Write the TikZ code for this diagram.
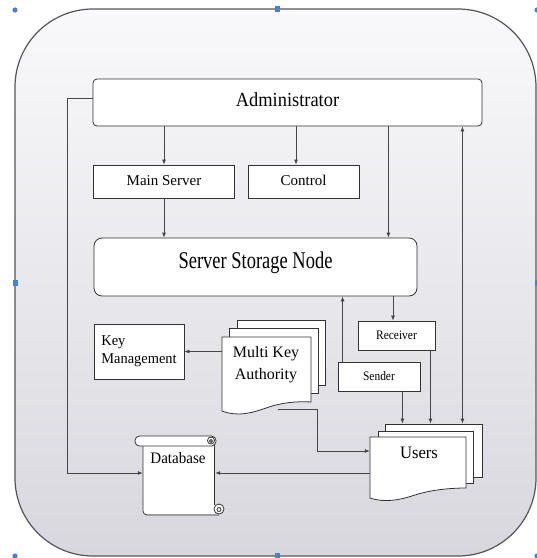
\documentclass[tikz,border=0pt]{standalone}
\usepackage{fontspec}
\setmainfont{Liberation Serif}
\newfontfamily\fAdm[FakeStretch=0.92]{Liberation Serif}
\newfontfamily\fSsn[FakeStretch=0.77]{Liberation Serif}
\newfontfamily\fKm[FakeStretch=0.96]{Liberation Serif}
\newfontfamily\fRs[FakeStretch=0.88]{Liberation Serif}
\newfontfamily\fUs[FakeStretch=0.95]{Liberation Serif}
\newfontfamily\fDb[FakeStretch=0.94]{Liberation Serif}
\usetikzlibrary{arrows.meta,calc}
\definecolor{frameline}{RGB}{85,85,85}
\definecolor{boxline}{RGB}{50,50,50}
\definecolor{conn}{RGB}{70,70,70}
\definecolor{bgtop}{RGB}{249,249,251}
\definecolor{bgbot}{RGB}{216,215,222}
\definecolor{handle}{RGB}{74,128,210}
\begin{document}
\begin{tikzpicture}[x=1pt,y=-1pt,
  box/.style={draw=boxline, fill=white, line width=0.8pt, inner sep=0pt, rectangle},
  page/.style={draw=boxline, fill=white, line width=0.8pt},
  ghost/.style={inner sep=0pt, rectangle},
  arr/.style={draw=conn, line width=0.8pt, -{Latex[length=5pt,width=4pt]}},
  arrb/.style={draw=conn, line width=0.8pt, {Latex[length=5pt,width=4pt]}-{Latex[length=5pt,width=4pt]}},
  hnd/.style={fill=handle}]
\useasboundingbox (0,0) rectangle (537,558);
% frame
\shade[top color=bgtop, bottom color=bgbot, rounded corners=78pt] (15,9) rectangle (536,556);
\draw[frameline, line width=1.2pt, rounded corners=78pt] (15,9) rectangle (536,556);

% boxes
\node[box, rounded corners=4pt, minimum width=389pt, text height=27pt, text depth=20pt,
  font=\fAdm\fontsize{20}{24}\selectfont] (admin) at (287.5,102.5) {Administrator};
\node[box, minimum width=141pt, text height=20pt, text depth=13pt,
  font=\fontsize{15}{18}\selectfont] (ms) at (164,181.5) {Main Server};
\node[box, minimum width=111pt, text height=20pt, text depth=13pt,
  font=\fontsize{15}{18}\selectfont] (ctrl) at (303.5,181.5) {Control};
\node[box, rounded corners=8pt, minimum width=323pt, text height=30pt, text depth=28pt,
  font=\fSsn\fontsize{24}{28}\selectfont] (ssn) at (255.5,267) {Server Storage Node};
\node[box, minimum width=90pt, minimum height=55pt, align=left,
  font=\fKm\fontsize{15}{18}\selectfont] (km) at (139,351.5) {Key\\Management};
\node[box, minimum width=77pt, minimum height=29pt,
  font=\fRs\fontsize{13}{15}\selectfont] (rec) at (396.5,335.5) {Receiver};
\node[box, minimum width=82pt, minimum height=29pt,
  font=\fRs\fontsize{13}{15}\selectfont] (snd) at (379,376.5) {Sender};

% multi key authority (multiple document)
\node[box, minimum width=88pt, minimum height=65pt] (mkaback) at (281,352.5) {};
\node[box, minimum width=89pt, minimum height=65pt] (mkamid) at (273.5,360.5) {};
\draw[page] (222,337) -- (311,337) -- (311,402)
  .. controls (295,401) and (280,403) .. (266,408)
  .. controls (252,413) and (238,417) .. (222,411) -- cycle;
\node[ghost, minimum width=89pt, minimum height=75pt] (mka) at (266.5,374.5) {};
\node[font=\fontsize{16}{22}\selectfont, align=center, inner sep=0pt] (mkatext) at (266,365) {Multi Key\\Authority};

% users (multiple document)
\node[box, minimum width=97pt, minimum height=53pt] (usersback) at (433.5,450.5) {};
\node[box, minimum width=95pt, minimum height=52pt] (usersmid) at (425.5,457) {};
\draw[page] (370,437) -- (466,437) -- (466,488)
  .. controls (450,488) and (430,490) .. (415,495)
  .. controls (400,500) and (385,503) .. (370,498) -- cycle;
\node[ghost, minimum width=96pt, minimum height=61pt] (users) at (418,467.5) {};
\node[font=\fUs\fontsize{17.5}{20}\selectfont, anchor=base, inner sep=0pt] (userstext) at (419,458) {Users};

% database (scroll)
\node[ghost, minimum width=72pt, minimum height=70pt] (db) at (179,480) {};
\fill[white] (143,445) rectangle (215,514);
\draw[page, fill=none, rounded corners=4pt] (143,445) -- (143,515) -- (219,515);
\draw[page, fill=none] (214,445) -- (214,505);
\draw[page] (219,509) circle (5);
\draw[page] (219,509.5) circle (2);
\draw[page, rounded corners=4.5pt] (135,436) rectangle (216,446);
\draw[page] (211,440.5) circle (3.5);
\draw[page] (211,441) circle (1.5);
\node[font=\fDb\fontsize{16}{19}\selectfont, anchor=base, inner sep=0pt] (dbtext) at (178,463) {Database};

% connectors
\coordinate (cA) at ($(ctrl.north)+(-7.5,0)$);
\coordinate (cB) at ($(ssn.north east)+(-29,0)$);
\coordinate (cC) at ($(rec.north)+(-3.5,0)$);
\coordinate (cD) at ($(snd.north west)+(5,0)$);
\coordinate (cE) at ($(snd.south east)+(-18,0)$);
\coordinate (cF) at ($(rec.south east)+(-5,0)$);
\coordinate (cG) at ($(admin.south east)+(-20,0)$);
\coordinate (cH) at ($(mka.south west)+(56,-3)$);
\coordinate (cI) at ($(users.west)+(0,-16.5)$);
\coordinate (cJ) at ($(db.east)+(0,-7)$);
\coordinate (cK) at ($(admin.west)+(0,-4.5)$);
\coordinate (cL) at ($(db.west)+(0,-7)$);

\draw[arr] (ms.north |- admin.south) -- (ms.north);
\draw[arr] (cA |- admin.south) -- (cA);
\draw[arr] (cB |- admin.south) -- (cB);
\draw[arr] (ms.south) -- (ms.south |- ssn.north);
\draw[arr] (cC |- ssn.south) -- (cC);
\draw[arr] (cD) -- (cD |- ssn.south);
\draw[arr] (cE) -- (cE |- usersback.north);
\draw[arr] (cF) -- (cF |- usersback.north);
\draw[arrb] (cG) -- (cG |- usersback.north);
\draw[arr] (mka.west |- km.east) -- (km.east);
\draw[arr] (cH) -- ($(cH)+(40,0)$) |- (cI);
\draw[arr] (cJ -| users.west) -- (cJ);
\draw[arr] (cK) -- ++(-25,0) |- (cL);

% selection handles
\fill[hnd] (15,10) circle (2.6);
\fill[hnd] (274.5,6) rectangle (279.5,12);
\fill[hnd] (537,10) circle (2.6);
\fill[hnd] (12.5,280) rectangle (17.5,286);
\fill[hnd] (534.5,280) rectangle (539.5,286);
\fill[hnd] (15,556) circle (2.6);
\fill[hnd] (274.5,553) rectangle (279.5,559);
\fill[hnd] (537,556) circle (2.6);
\end{tikzpicture}
\end{document}
